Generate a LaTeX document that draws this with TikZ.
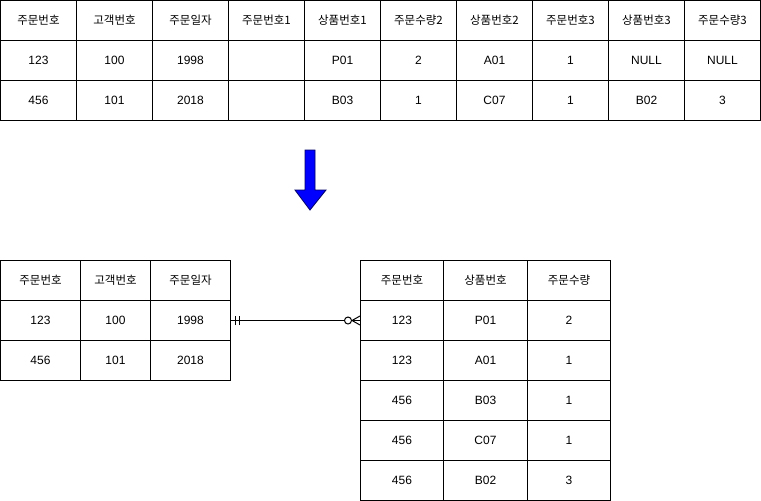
\documentclass[tikz,border=0pt]{standalone}
\usepackage{fontspec}
\setmainfont{Liberation Sans}
\newfontfamily\kr{Noto Sans CJK KR}
\usetikzlibrary{arrows.meta, positioning, calc}
\tikzset{
    cell/.style={draw, line width=1pt, inner sep=0pt, minimum height=40,
                 font=\fontsize{12}{14}\selectfont},
    head/.style={cell, font=\kr\fontsize{11.5}{14}\selectfont},
    erline/.style={line width=1pt},
}

\begin{document}
\begin{tikzpicture}[x=1pt, y=-1pt]
    \useasboundingbox (0,0) rectangle (761,501);

    % unnormalised order table
    \foreach \h/\a/\b [count=\c] in {주문번호/123/456, 고객번호/100/101, 주문일자/1998/2018,
        주문번호1//, 상품번호1/P01/B03, 주문수량2/2/1, 상품번호2/A01/C07,
        주문번호3/1/1, 상품번호3/NULL/B02, 주문수량3/NULL/3} {
      \node[head, minimum width=76] (old-0-\c) at ({76*\c-37.5},20.5) {\h};
      \node[cell, minimum width=76] (old-1-\c) at ({76*\c-37.5},60.5) {\a};
      \node[cell, minimum width=76] (old-2-\c) at ({76*\c-37.5},100.5) {\b};
    }

    % arrow
    \draw[fill=blue, draw=blue!40!black, line width=0.8pt]
      (305,150) -- (315,150) -- (315,190) -- (326,190) -- (310,210)
      -- (295,190) -- (305,190) -- cycle;

    % order table
    \foreach \x/\w/\h/\a/\b [count=\c] in {40.5/80/주문번호/123/456,
        115.5/70/고객번호/100/101, 190.5/80/주문일자/1998/2018} {
      \node[head, minimum width=\w] (ord-0-\c) at (\x,280.5) {\h};
      \node[cell, minimum width=\w] (ord-1-\c) at (\x,320.5) {\a};
      \node[cell, minimum width=\w] (ord-2-\c) at (\x,360.5) {\b};
    }

    % order item table
    \node[head, minimum width=83] (item-0-1) at (402,280.5) {주문번호};
    \node[head, minimum width=84] (item-0-2) at (485.5,280.5) {상품번호};
    \node[head, minimum width=83] (item-0-3) at (569,280.5) {주문수량};
    \foreach \a/\b/\q [count=\r] in {123/P01/2, 123/A01/1, 456/B03/1, 456/C07/1, 456/B02/3} {
      \node[cell, minimum width=83] (item-\r-1) at (402,{280.5+40*\r}) {\a};
      \node[cell, minimum width=84] (item-\r-2) at (485.5,{280.5+40*\r}) {\b};
      \node[cell, minimum width=83] (item-\r-3) at (569,{280.5+40*\r}) {\q};
    }

    % one to zero-or-many
    \draw[erline] (ord-1-3.east) -- (item-1-1.west);
    \draw[erline] ([xshift=4.5pt,yshift=-4.5pt]ord-1-3.east) -- ([xshift=4.5pt,yshift=4.5pt]ord-1-3.east);
    \draw[erline] ([xshift=8pt,yshift=-4.5pt]ord-1-3.east) -- ([xshift=8pt,yshift=4.5pt]ord-1-3.east);
    \draw[erline] ([xshift=-8pt]item-1-1.west) -- ([yshift=4.5pt]item-1-1.west);
    \draw[erline] ([xshift=-8pt]item-1-1.west) -- ([yshift=-4.5pt]item-1-1.west);
    \draw[erline, fill=white] ([xshift=-12pt]item-1-1.west) circle [radius=3.5pt];
\end{tikzpicture}
\end{document}
